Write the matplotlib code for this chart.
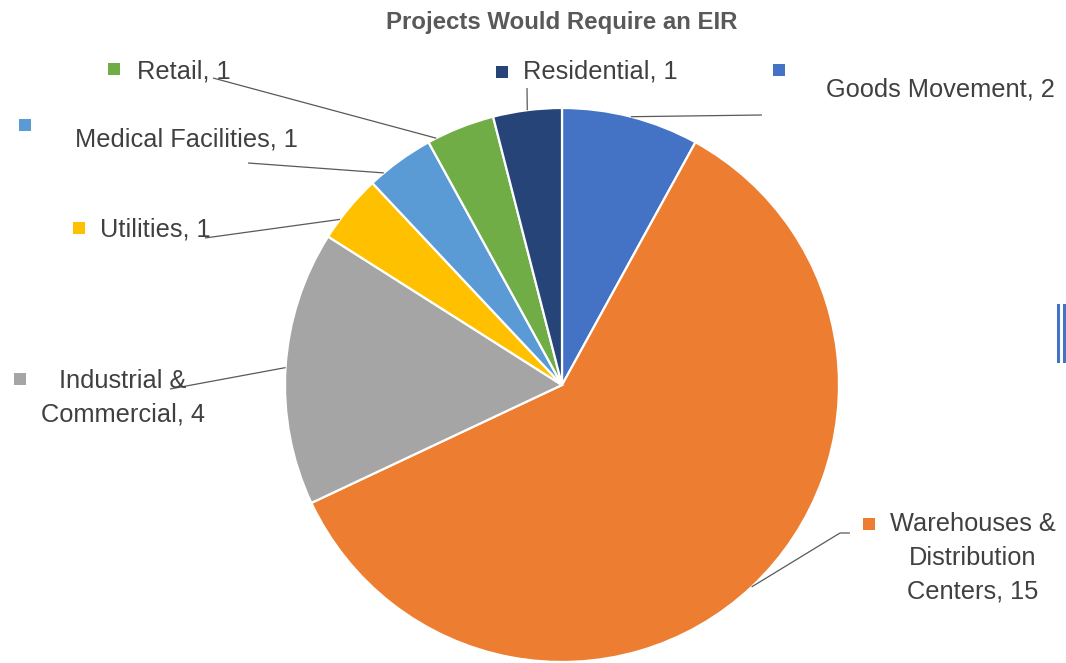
import numpy as np
import matplotlib.pyplot as plt

W, H = 1066, 663

CATEGORIES = [
    "Goods Movement",
    "Warehouses &\nDistribution\nCenters",
    "Industrial &\nCommercial",
    "Utilities",
    "Medical Facilities",
    "Retail",
    "Residential",
]
COUNTS = [2, 15, 4, 1, 1, 1, 1]
COLORS = ["#4472C4", "#ED7D31", "#A5A5A5", "#FFC000", "#5B9BD5", "#70AD47", "#264478"]

TITLE = "Projects Would Require an EIR"

# label layout in pixels (top-left origin): marker xy, text xy, alignment
LABEL_LAYOUT = [
    dict(marker=(779, 70), text=(826, 90), ha="left"),
    dict(marker=(869, 524), text=(973, 558), ha="center"),
    dict(marker=(20, 379), text=(123, 398), ha="center"),
    dict(marker=(79, 228), text=(100, 230), ha="left"),
    dict(marker=(25, 125), text=(75, 140), ha="left"),
    dict(marker=(114, 69), text=(137, 72), ha="left"),
    dict(marker=(502, 72), text=(523, 72), ha="left"),
]
# leader lines: fraction along wedge (clockwise) where the line leaves the rim,
# then the path of the line in pixels
LEADERS = [
    (0.5, [(762, 115)]),
    (0.5, [(840, 533), (850, 533)]),
    (0.5, [(170, 389)]),
    (0.3, [(205, 238)]),
    (0.22, [(248, 163)]),
    (0.125, [(213, 78)]),
    (0.5, [(527, 88)]),
]

CENTER = (562, 385)
RADIUS = 277


def py(y):
    return H - y


plt.rcParams["font.family"] = ["Liberation Sans", "DejaVu Sans"]

fig = plt.figure(figsize=(W / 100, H / 100), dpi=100)
ax = fig.add_axes([0, 0, 1, 1])

wedges, _ = ax.pie(
    COUNTS,
    colors=COLORS,
    startangle=90,
    counterclock=False,
    center=(CENTER[0], py(CENTER[1])),
    radius=RADIUS,
    wedgeprops=dict(edgecolor="white", linewidth=1.6),
)

ax.set_xlim(0, W)
ax.set_ylim(0, H)
ax.set_aspect("equal")
ax.axis("off")

text_color = "#404040"
for wedge, name, count, color, lay, (frac, path) in zip(
    wedges, CATEGORIES, COUNTS, COLORS, LABEL_LAYOUT, LEADERS
):
    ang = np.deg2rad(wedge.theta2 - frac * (wedge.theta2 - wedge.theta1))
    x0 = CENTER[0] + RADIUS * np.cos(ang)
    y0 = py(CENTER[1]) + RADIUS * np.sin(ang)
    xs = [x0] + [p[0] for p in path]
    ys = [y0] + [py(p[1]) for p in path]
    ax.plot(xs, ys, color="#595959", linewidth=0.9, solid_capstyle="butt")

    mx, my = lay["marker"]
    ax.scatter([mx], [py(my)], marker="s", s=72, color=color, linewidths=0)
    tx, ty = lay["text"]
    ax.text(
        tx, py(ty), f"{name}, {count}",
        ha=lay["ha"], va="center", multialignment="center",
        fontsize=18.3, color=text_color, linespacing=1.52,
    )

ax.text(562, py(22), TITLE, ha="center", va="center", fontsize=17.3,
        fontweight="bold", color="#595959")

# stray double bar at the right edge of the original
for bx in (1057.5, 1063.5):
    ax.plot([bx, bx], [py(305), py(361)], color="#4472C4", linewidth=2.2)

fig.savefig("out.png", dpi=100)
